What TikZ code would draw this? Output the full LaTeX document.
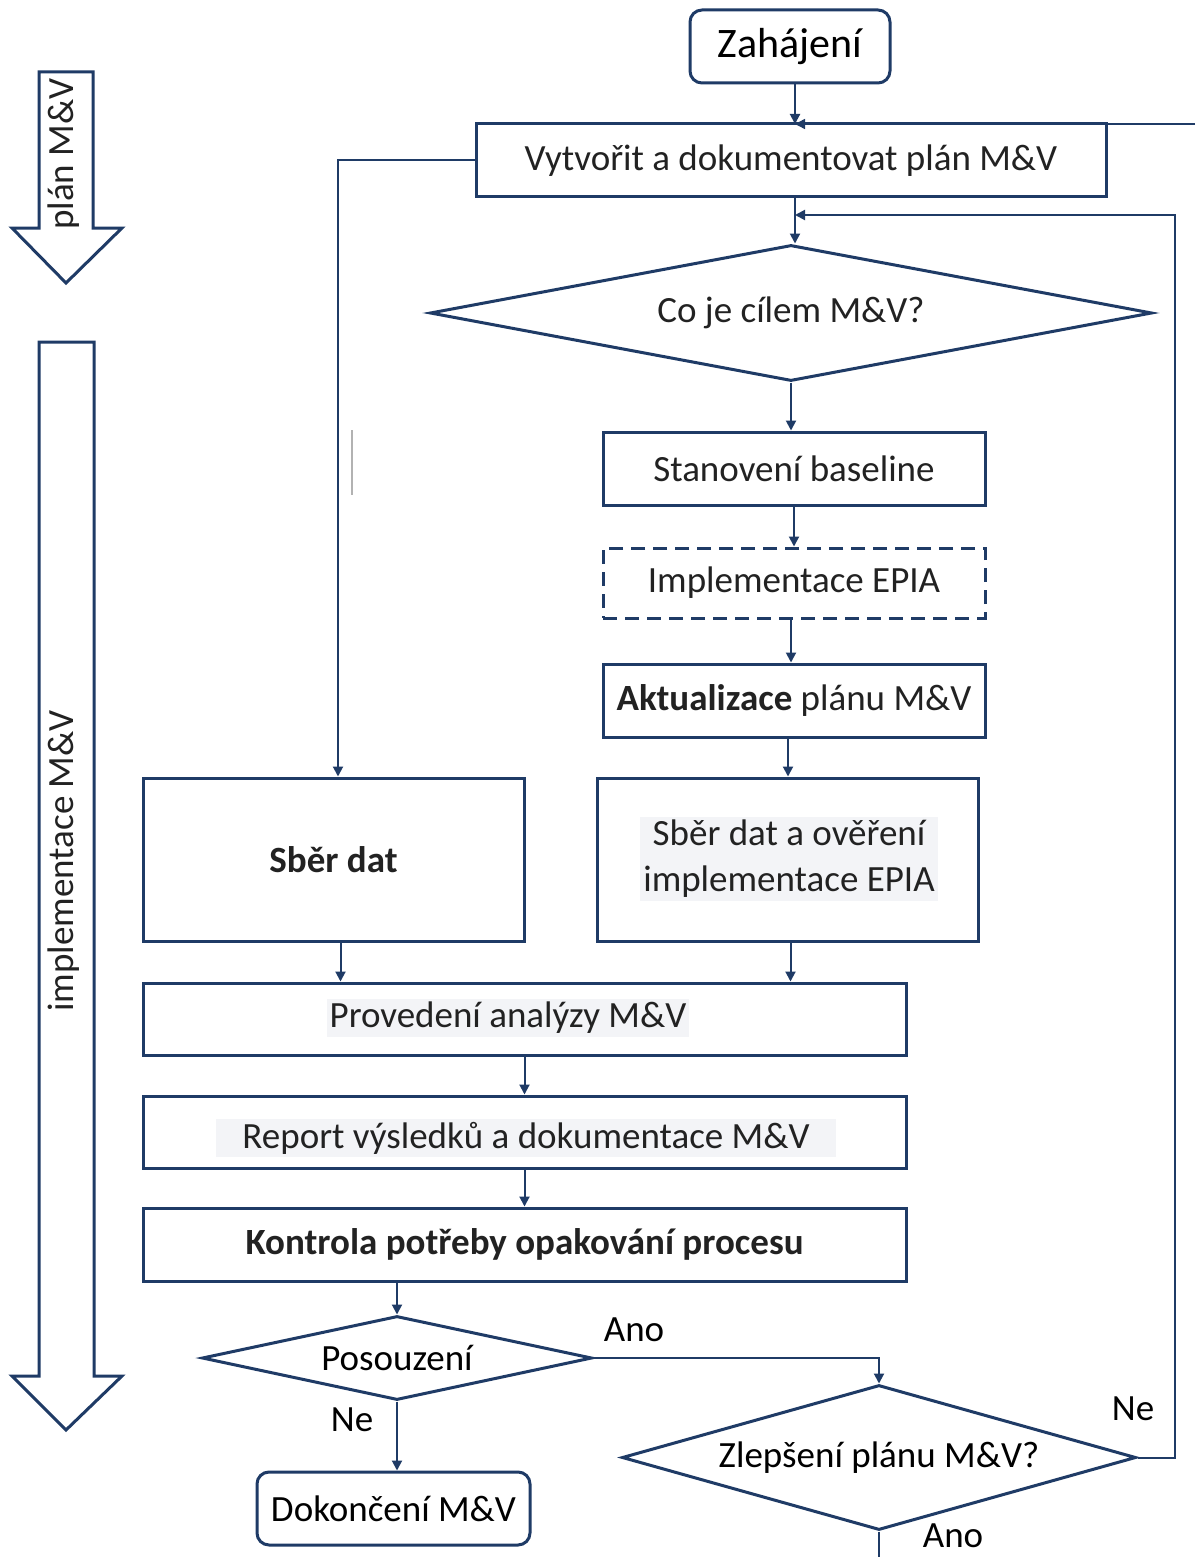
\documentclass[tikz,border=0pt]{standalone}
\usepackage{fontspec}
\setmainfont{Carlito}
\usetikzlibrary{arrows.meta,shapes.geometric}
\definecolor{navy}{HTML}{1F3B66}
\definecolor{txt}{HTML}{222222}
\definecolor{hl}{HTML}{F3F4F7}
\tikzset{
  box/.style={draw=navy, line width=3pt, rectangle, inner sep=0pt, text=txt, font=\fontsize{37}{43}\selectfont},
  rbox/.style={box, rounded corners=12pt},
  dia/.style={draw=navy, line width=3pt, diamond, aspect=6, inner sep=0pt, text=txt, font=\fontsize{37}{43}\selectfont},
  conn/.style={draw=navy, line width=2pt, -{Triangle[length=10pt,width=10pt]}},
  plain/.style={draw=navy, line width=2pt},
  lbl/.style={text=txt, font=\fontsize{37}{43}\selectfont, inner sep=0pt},
  hltext/.style={lbl, fill=hl, inner sep=3pt},
  barrow/.style={draw=navy, line width=3pt, fill=white, line join=miter},
}
\begin{document}
\begin{tikzpicture}[x=1pt, y=-1pt]
\path[use as bounding box, fill=white] (0,0) rectangle (1195,1557);

% block arrows on the left
\draw[barrow] (39,72) -- (93,72) -- (93,228) -- (122,228) -- (66,283) -- (12,228) -- (39,228) -- cycle;
\node[lbl, rotate=90] (planlbl) at (64,154) {plán M\&V};
\draw[barrow] (39,342) -- (94,342) -- (94,1376) -- (122,1376) -- (66,1430) -- (12,1376) -- (39,1376) -- cycle;
\node[lbl, rotate=90] (impllbl) at (64,861) {implementace M\&V};

% nodes
\node[rbox, minimum width=200pt, minimum height=73pt, font=\fontsize{42}{48}\selectfont, text=black] (start) at (790,46.5) {Zahájení};
\node[box, minimum width=630pt, minimum height=73pt] (vyt) at (791,160.5) {Vytvořit a dokumentovat plán M\&V};
\node[dia, minimum width=722pt, minimum height=136pt] (cil) at (791,313) {Co je cílem M\&V?};
\node[box, minimum width=382pt, minimum height=73pt] (base) at (794,468.5) {Stanovení baseline};
\node[box, dashed, dash pattern=on 14pt off 8pt, minimum width=382pt, minimum height=70pt] (epia) at (794,583) {Implementace EPIA};
\node[box, minimum width=382pt, minimum height=73pt] (akt) at (794,700.5) {\textbf{Aktualizace} plánu M\&V};
\node[box, minimum width=381pt, minimum height=163pt] (sber) at (333.5,859.5) {\textbf{Sběr dat}};
\node[box, minimum width=381pt, minimum height=163pt] (sberov) at (787.5,859.5) {};
\node[hltext, align=center, font=\fontsize{37}{46}\selectfont] (sberovt) at (789,859) {Sběr dat a ověření\\implementace EPIA};
\node[box, minimum width=763pt, minimum height=72pt] (anal) at (524.5,1019) {};
\node[hltext] (analt) at (508,1018) {Provedení analýzy M\&V};
\node[box, minimum width=763pt, minimum height=72pt] (rep) at (524.5,1132) {};
\node[hltext, minimum width=620pt] (rept) at (526,1138) {Report výsledků a dokumentace M\&V};
\node[box, minimum width=763pt, minimum height=73pt] (kon) at (524.5,1244.5) {\textbf{Kontrola potřeby opakování procesu}};
\node[dia, minimum width=390pt, minimum height=84pt, text=black] (pos) at (397,1358) {Posouzení};
\node[rbox, minimum width=273pt, minimum height=73pt, text=black] (dok) at (393.5,1508.5) {Dokončení M\&V};
\node[dia, minimum width=514pt, minimum height=145pt, text=black] (zle) at (879,1457.5) {Zlepšení plánu M\&V?};

% stray thin line
\draw[gray!60, line width=1.5pt] (352,430) -- (352,495);

% coordinates
\coordinate (topR) at (1195,124);
\coordinate (vytIn) at (795,124);
\coordinate (loopIn) at (795,215);
\coordinate (loopR) at (1175,215);
\coordinate (zleR) at (1175,1457.5);
\coordinate (leftTop) at (338,160.5);
\coordinate (bottomEnd) at (879,1557);

% connectors
\draw[conn] (start.south -| vytIn) -- (vytIn);
\draw[conn, line width=1.5pt] (topR) -- (vytIn);
\draw[conn] (vyt.south -| vytIn) -- (cil.north -| vytIn);
\draw[conn] (zle.east) -- (zleR) -- (loopR) -- (loopIn);
\draw[conn] (vyt.west) -- (leftTop) -- (leftTop |- sber.north);
\draw[conn] (cil.south) -- (cil.south |- base.north);
\draw[conn] (base.south) -- (base.south |- epia.north);
\draw[conn] ([xshift=-3pt]epia.south) -- ([xshift=-3pt]epia.south |- akt.north);
\draw[conn] ([xshift=-6pt]akt.south) -- ([xshift=-6pt]akt.south |- sberov.north);
\draw[conn] ([xshift=7pt]sber.south) -- ([xshift=7pt]sber.south |- anal.north);
\draw[conn] ([xshift=3pt]sberov.south) -- ([xshift=3pt]sberov.south |- anal.north);
\draw[conn] (anal.south) -- (rep.north);
\draw[conn] (rep.south) -- (kon.north);
\draw[conn] (kon.south -| pos.north) -- (pos.north);
\draw[conn] (pos.east) -- (pos.east -| zle.north) -- (zle.north);
\draw[conn] (pos.south) -- (dok.north -| pos.south);
\draw[plain] (zle.south) -- (bottomEnd);

% labels
\node[lbl, text=black] (ano1) at (634,1330) {Ano};
\node[lbl, text=black] (ne1) at (352,1420) {Ne};
\node[lbl, text=black] (ne2) at (1133,1409) {Ne};
\node[lbl, text=black] (ano2) at (953,1536) {Ano};
\end{tikzpicture}
\end{document}
